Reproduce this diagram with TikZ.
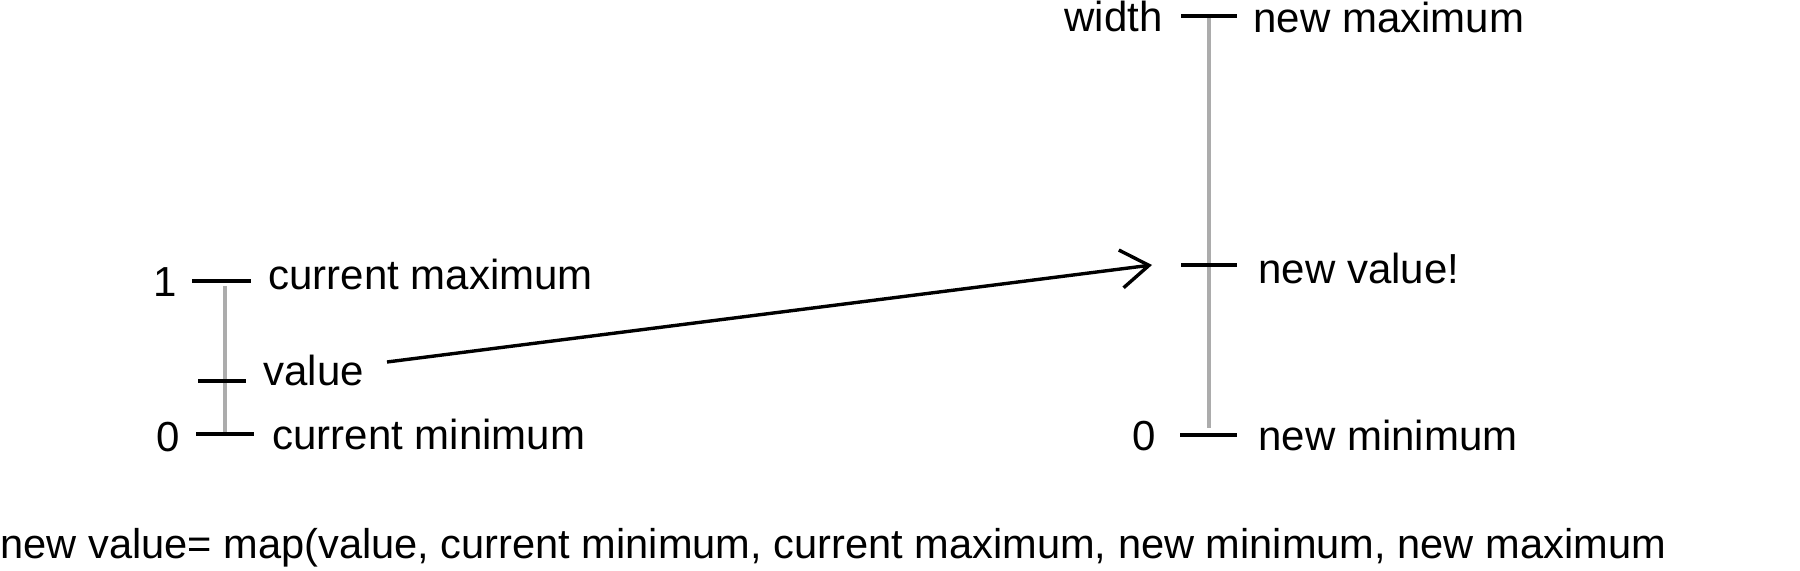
\documentclass[tikz,border=0pt]{standalone}
\usepackage{fontspec}
\setmainfont{Liberation Sans}
\usetikzlibrary{arrows.meta}
\begin{document}
\begin{tikzpicture}[x=0.5pt,y=-0.5pt,
  lbl/.style={anchor=base west,inner sep=0pt,font=\fontsize{21pt}{25pt}\selectfont},
  tickmark/.style={line width=1.8pt,black},
  axisline/.style={line width=1.8pt,color={rgb,255:red,172;green,172;blue,172}},
  mapline/.style={line width=1.7pt,black,-{Straight Barb[length=14pt,width=19pt,line width=1.7pt]}}]
\useasboundingbox (0,0) rectangle (1800,571);
% left axis
\draw[axisline] (225,286) -- (225,433);
\draw[tickmark] (192,281) -- (251,281);
\draw[tickmark] (198,381) -- (246,381);
\draw[tickmark] (196,434) -- (254,434);
\node[lbl] (one) at (153,297) {1};
\node[lbl] (curmax) at (268,290) {current maximum};
\node[lbl] (value) at (263,386) {value};
\node[lbl] (zeroL) at (156,452) {0};
\node[lbl] (curmin) at (272,450) {current minimum};
% right axis
\draw[axisline] (1209,18) -- (1209,428);
\draw[tickmark] (1181,16) -- (1237,16);
\draw[tickmark] (1181,265) -- (1237,265);
\draw[tickmark] (1180,435) -- (1237,435);
\node[lbl] (width) at (1064,32) {width};
\node[lbl] (newmax) at (1253,33) {new maximum};
\node[lbl] (newval) at (1258,284) {new value!};
\node[lbl] (zeroR) at (1132,451) {0};
\node[lbl] (newmin) at (1258,451) {new minimum};
% connector
\coordinate (arrS) at (387,362);
\coordinate (arrE) at (1152,265);
\draw[mapline] (arrS) -- (arrE);
% formula
\node[lbl,font=\fontsize{20.8pt}{25pt}\selectfont] (formula) at (0,559) {new value= map(value, current minimum, current maximum, new minimum, new maximum};
\end{tikzpicture}
\end{document}
